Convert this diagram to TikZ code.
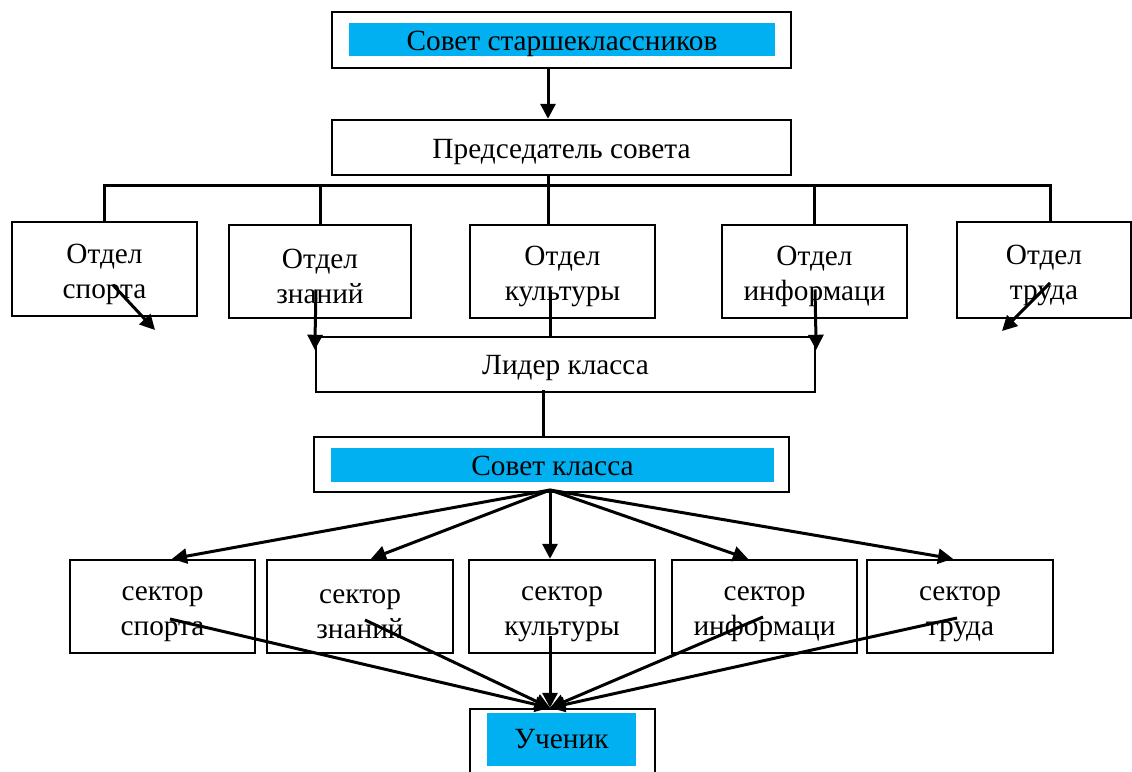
\documentclass[tikz,border=0pt]{standalone}
\usepackage{fontspec}
\setmainfont{Liberation Serif}
\usetikzlibrary{arrows.meta,calc}
\definecolor{wordblue}{RGB}{0,176,240}

\begin{document}
\begin{tikzpicture}[x=1pt,y=1pt,yscale=-1,xscale=1,
  box/.style={draw,line width=2.4pt,inner sep=0pt},
  band/.style={fill=wordblue,inner sep=0pt},
  txt/.style={inner sep=0pt,align=center,font=\fontsize{29.3}{35}\selectfont},
  link/.style={line width=3pt},
  arr/.style={line width=3pt,-{Triangle[length=15pt,width=15pt]}}]
\useasboundingbox (0,0) rectangle (1132,771);
\clip (0,0) rectangle (1132,771);

%Shape: Rectangle
\node[box,minimum width=459pt,minimum height=56pt] (sovet) at (561.5,40) {};
\node[band,minimum width=426pt,minimum height=33pt] (sovetband) at (562,39.5) {};
% Text Node
\node[txt] (sovetlbl) at ($(sovetband)+(0,4)$) {Совет старшеклассников};
%Shape: Rectangle
\node[box,minimum width=459pt,minimum height=55pt] (pred) at (561.5,147.5) {};
% Text Node
\node[txt] (predlbl) at ($(pred)+(0,5)$) {Председатель совета};

\coordinate (axis) at (548,0);
\coordinate (bus) at (548,185);
%Straight Lines
\draw[arr] (sovet.south -| axis) -- (pred.north -| axis);
\draw[link] (pred.south -| axis) -- (bus);

%Shape: Rectangle
\node[box,minimum width=185pt,minimum height=94pt] (sport) at (104.5,269) {};
\node[box,minimum width=182pt,minimum height=93pt] (znan) at (320,271.5) {};
\node[box,minimum width=185pt,minimum height=93pt] (kult) at (562.5,271.5) {};
\node[box,minimum width=185pt,minimum height=93pt] (info) at (814.5,271.5) {};
\node[box,minimum width=174pt,minimum height=96pt] (trud) at (1044,270) {};
% Text Node
\node[txt] (sportlbl) at ($(sport)+(0,5)$) {Отдел\\спорта};
\node[txt] (znanlbl) at ($(znan)+(0,5)$) {Отдел\\знаний};
\node[txt] (kultlbl) at ($(kult)+(0,5)$) {Отдел\\культуры};
\node[txt] (infolbl) at ($(info)+(0,5)$) {Отдел\\информаци};
\node[txt] (trudlbl) at ($(trud)+(0,5)$) {Отдел\\труда};

%Straight Lines
\draw[link] (sport.north) |- (bus) -| ($(trud.north)+(6,0)$);
\draw[link] (znan.north) -- (znan.north |- bus);
\draw[link] (kult.north -| axis) -- (bus);
\draw[link] (info.north) -- (info.north |- bus);

\coordinate (sportend) at (155,330);
\coordinate (trudend) at (1002,331);
\draw[arr] ($(sport.center)+(8.5,16)$) -- (sportend);
\draw[arr] ($(trud.center)+(6,13)$) -- (trudend);

%Shape: Rectangle
\node[box,minimum width=499pt,minimum height=55pt] (lider) at (565.5,364.5) {};
% Text Node
\node[txt] (liderlbl) at ($(lider)+(0,4)$) {Лидер класса};

%Straight Lines
\draw[arr] ($(znan.center)+(-4,18)$) -- ($(lider.north west)+(0,14)$);
\draw[arr] ($(info.center)+(0.5,18)$) -- ($(lider.north east)+(0,14)$);
\draw[link] ($(kult.center)+(-12.5,18)$) coordinate (kultfoot) -- (lider.north -| kultfoot);

%Shape: Rectangle
\node[box,minimum width=475pt,minimum height=55pt] (klass) at (551.5,464.5) {};
\node[band,minimum width=443pt,minimum height=34pt] (klassband) at (552.5,465) {};
% Text Node
\node[txt] (klasslbl) at ($(klassband)+(0,1)$) {Совет класса};

\coordinate (stem) at (543,0);
\draw[link] ($(lider.south -| stem)+(0,-3)$) -- (klass.north -| stem);

\coordinate (hub) at (550,490);

%Shape: Rectangle
\node[box,minimum width=185pt,minimum height=93pt] (secsport) at (162.5,606.5) {};
\node[box,minimum width=186pt,minimum height=93pt] (secznan) at (360,606.5) {};
\node[box,minimum width=186pt,minimum height=93pt] (seckult) at (562,606.5) {};
\node[box,minimum width=185pt,minimum height=93pt] (secinfo) at (764.5,606.5) {};
\node[box,minimum width=186pt,minimum height=93pt] (sectrud) at (960,606.5) {};
% Text Node
\node[txt] (secsportlbl) at ($(secsport)+(0,8)$) {сектор\\спорта};
\node[txt] (secznanlbl) at ($(secznan)+(0,8)$) {сектор\\знаний};
\node[txt] (seckultlbl) at ($(seckult)+(0,8)$) {сектор\\культуры};
\node[txt] (secinfolbl) at ($(secinfo)+(0,8)$) {сектор\\информаци};
\node[txt] (sectrudlbl) at ($(sectrud)+(0,8)$) {сектор\\труда};

%Straight Lines
\draw[arr] (hub) -- ($(secsport.north)+(9.5,0)$);
\draw[arr] (hub) -- ($(secznan.north)+(11,0)$);
\draw[arr] (hub) -- (seckult.north -| hub);
\draw[arr] (hub) -- ($(secinfo.north)+(-16.5,0)$);
\draw[arr] (hub) -- ($(sectrud.north)+(-7,0)$);

%Shape: Rectangle
\node[box,minimum width=185pt,minimum height=100pt] (uch) at (562.5,759) {};
\node[band,minimum width=149pt,minimum height=53pt] (uchband) at (561.5,739.5) {};
% Text Node
\node[txt] (uchlbl) at ($(uchband)+(0,0)$) {Ученик};

%Straight Lines
\draw[arr] ($(secsport.center)+(7.5,12.5)$) -- (uch.north -| hub);
\draw[arr] ($(secznan.center)+(5,13.5)$) -- (uch.north -| hub);
\draw[arr] ($(seckult.center)+(-12,29.5)$) -- (uch.north -| hub);
\draw[arr] ($(secinfo.center)+(-1.5,10.5)$) -- (uch.north -| hub);
\draw[arr] ($(sectrud.center)+(-3,11.5)$) -- (uch.north -| hub);

\end{tikzpicture}
\end{document}
